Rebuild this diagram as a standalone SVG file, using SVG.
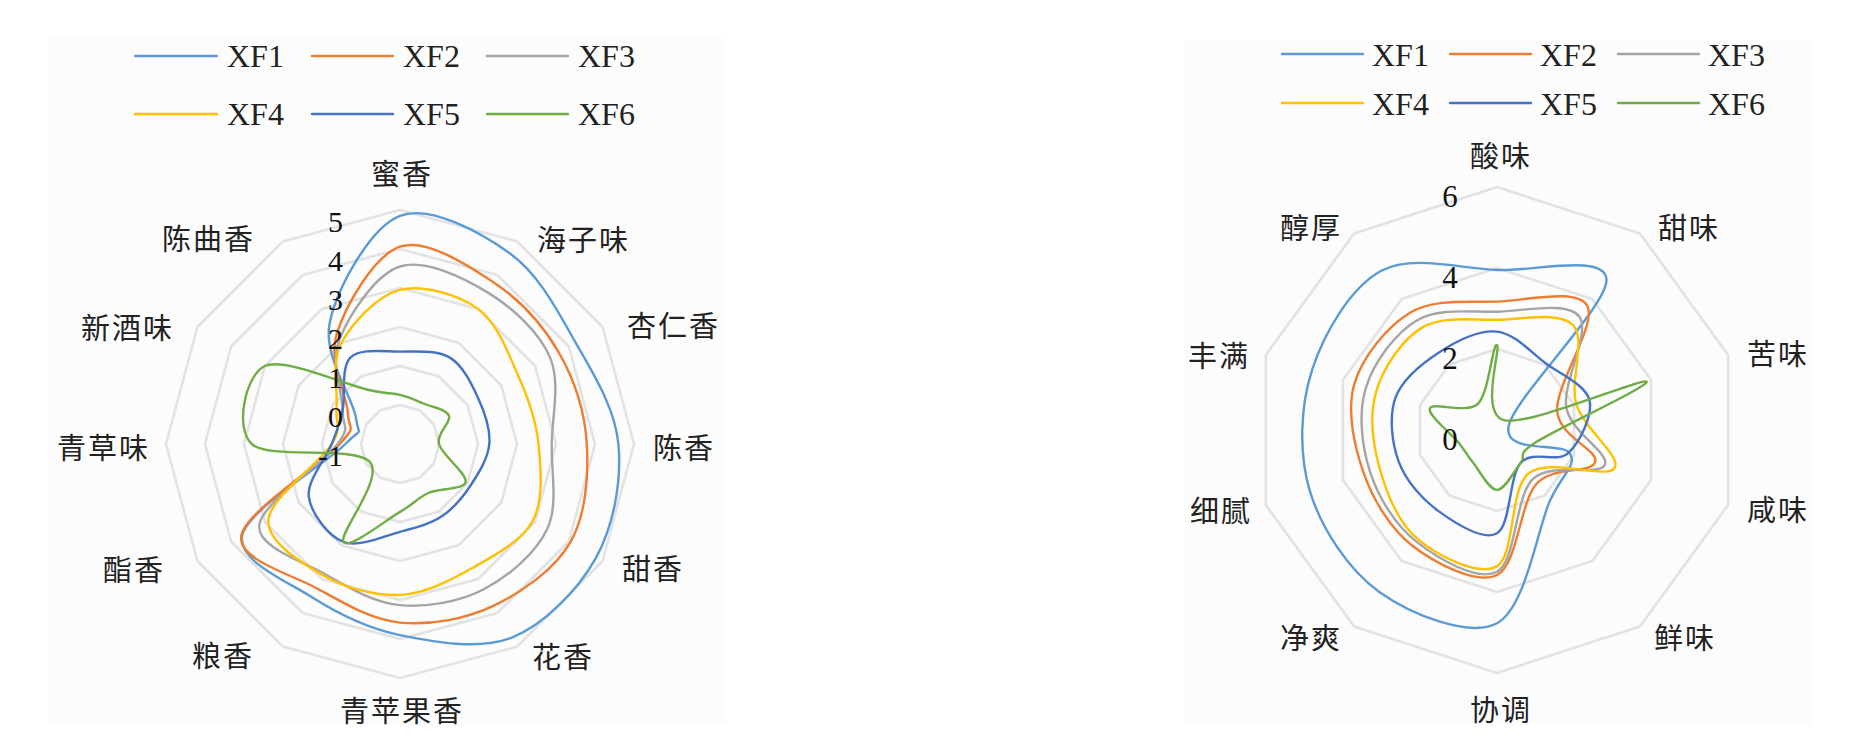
<svg xmlns="http://www.w3.org/2000/svg" width="1866" height="745" viewBox="0 0 1866 745">
<style>
.panel{fill:#fcfcfc}
.grid{fill:none;stroke:#e2e2e2;stroke-width:2.6;stroke-linejoin:round}
.s{fill:none;stroke-width:2.4;stroke-linejoin:round;stroke-linecap:round}
.x1{stroke:#5b9bd5}.x2{stroke:#ed7d31}.x3{stroke:#a5a5a5}.x4{stroke:#ffc000}.x5{stroke:#4472c4}.x6{stroke:#70ad47}
.lab{font-family:"Noto Sans CJK SC","Noto Sans CJK JP",sans-serif;font-size:29px;fill:#222222;letter-spacing:2px}
.num{font-family:"Liberation Serif",serif;font-size:30px;fill:#111111}
.numr{font-family:"Liberation Serif",serif;font-size:31px;fill:#111111;text-anchor:middle}
.leg{font-family:"Liberation Serif",serif;font-size:32px;fill:#222222}
.e{text-anchor:end}.m{text-anchor:middle}
</style>
<rect width="1866" height="745" fill="#ffffff"/>
<rect class="panel" x="48" y="38" width="678" height="687"/>
<rect class="panel" x="1185" y="40" width="627" height="685"/>

<g id="left-chart">
<g id="left-grid">
<polygon class="grid" points="400,405 419.5,410.2 433.8,424.5 439,444 433.8,463.5 419.5,477.8 400,483 380.5,477.8 366.2,463.5 361,444 366.2,424.5 380.5,410.2"/>
<polygon class="grid" points="400,366 439,376.5 467.5,405 478,444 467.5,483 439,511.5 400,522 361,511.5 332.5,483 322,444 332.5,405 361,376.5"/>
<polygon class="grid" points="400,327 458.5,342.7 501.3,385.5 517,444 501.3,502.5 458.5,545.3 400,561 341.5,545.3 298.7,502.5 283,444 298.7,385.5 341.5,342.7"/>
<polygon class="grid" points="400,288 478,308.9 535.1,366 556,444 535.1,522 478,579.1 400,600 322,579.1 264.9,522 244,444 264.9,366 322,308.9"/>
<polygon class="grid" points="400,249 497.5,275.1 568.9,346.5 595,444 568.9,541.5 497.5,612.9 400,639 302.5,612.9 231.1,541.5 205,444 231.1,346.5 302.5,275.1"/>
<polygon class="grid" points="400,210 517,241.4 602.6,327 634,444 602.6,561 517,646.6 400,678 283,646.6 197.4,561 166,444 197.4,327 283,241.4"/>
</g>
<g id="left-series">
<path id="L-XF1" class="s x1" d="M400,215.8 C430,204.3 480.7,232.4 510,253.5 S557.5,310.9 575.6,342.6 S615,408.2 618.4,444 S614,525 596.2,557.3 S544.5,624.6 511.8,637.6 S433.4,641.9 400,635.1 S337.9,613.7 311.6,597 S236.7,560.6 242.3,535.1 S326.4,463.4 345.4,444 S358.7,438.9 356.1,418.6 S322.5,356.2 329.8,322.4 S370,227.3 400,215.8 Z"/>
<path id="L-XF2" class="s x2" d="M400,246.7 C426.1,238 466.9,264.6 493.4,282.2 S543.1,325.3 558.7,352.3 S584.9,412.3 586.8,444 S585.9,515.3 570.3,542.3 S521.8,592.4 493.4,605.8 S429.5,625.5 400,622.6 S343.2,602.7 316.7,588.2 S237.4,559.7 241.3,535.7 S322.1,464.3 339.9,444 S348.6,432.2 348,413.9 S327.9,362.1 336.6,334.2 S373.9,255.4 400,246.7 Z"/>
<path id="L-XF3" class="s x3" d="M400,266.5 C424.7,258.7 462.6,277.2 487.6,292.4 S539.3,332.1 550,357.4 S552.2,415.4 551.7,444 S558.5,504.8 547.2,529 S508.4,576.5 483.9,589.2 S426.5,607.6 400,605.1 S348.4,587.4 324.9,574.1 S257.1,547 259.2,525.3 S323.7,463.1 337.6,444 S342.3,428.3 342.6,410.8 S329.9,363.4 339.5,339.3 S375.3,274.3 400,266.5 Z"/>
<path id="L-XF4" class="s x4" d="M400,289.9 C422.8,284.3 458.3,294.6 478,308.9 S508.1,353.2 518.2,375.7 S536.1,419.8 538.5,444 S543.9,500 532.8,520.7 S493.9,555.9 471.8,568.3 S424.7,593.7 400,594.9 S345.9,588.2 323.9,575.7 S267,542.1 268.3,520.1 S320.3,462.8 331.7,444 S334.9,424.2 336.5,407.3 S330.9,362.3 341.5,342.7 S377.2,295.5 400,289.9 Z"/>
<path id="L-XF5" class="s x5" d="M400,351.6 C416.6,351.6 436.8,349.7 449.9,357.6 S471.8,384.3 478.4,398.7 S490.6,429.6 489.3,444 S478.8,472.9 470.9,485 S453.6,508.5 441.8,516.3 S416.4,527.5 400,531.8 S358.6,547.8 343.4,541.9 S310.8,513 308.8,496.7 S326.1,458.3 331.7,444 S339.5,425.2 342.6,410.8 S340.6,367.7 350.2,357.8 S383.4,351.6 400,351.6 Z"/>
<path id="L-XF6" class="s x6" d="M400,394.9 C409.1,397.15 415.2,400 423.4,403.5 S446.4,409 449,415.7 S436.2,433 439,444 S467.4,473.7 465.6,481.9 S439.2,488 428.3,493 S414.2,503.7 400,511.9 S348.5,550.3 343.4,541.9 S384.9,477.9 369.6,461.6 S269.3,459.9 251.8,444 S245.4,375 264.9,366 S346.3,385.2 368.8,390 S390.9,392.65 400,394.9 Z"/>
</g>
<g id="left-axis-values">
<text class="num e" x="343" y="232">5</text>
<text class="num e" x="343" y="271">4</text>
<text class="num e" x="343" y="310">3</text>
<text class="num e" x="343" y="349">2</text>
<text class="num e" x="343" y="388">1</text>
<text class="num e" x="343" y="427">0</text>
<text class="num e" x="343" y="466">-1</text>
</g>
<g id="left-labels">
<text class="lab m" x="402" y="185">蜜香</text>
<text class="lab" x="537" y="251">海子味</text>
<text class="lab" x="627" y="337">杏仁香</text>
<text class="lab" x="653" y="459">陈香</text>
<text class="lab" x="622" y="580">甜香</text>
<text class="lab" x="532" y="668">花香</text>
<text class="lab m" x="402" y="722">青苹果香</text>
<text class="lab e" x="254" y="667">粮香</text>
<text class="lab e" x="165" y="581">酯香</text>
<text class="lab e" x="150" y="459">青草味</text>
<text class="lab e" x="174" y="339">新酒味</text>
<text class="lab e" x="255" y="250">陈曲香</text>
</g>
<g id="left-legend">
<line class="s x1" x1="135" y1="56" x2="217" y2="56"/><text class="leg" x="227" y="67">XF1</text>
<line class="s x2" x1="312" y1="56" x2="393" y2="56"/><text class="leg" x="403" y="67">XF2</text>
<line class="s x3" x1="487" y1="56" x2="568" y2="56"/><text class="leg" x="578" y="67">XF3</text>
<line class="s x4" x1="135" y1="114" x2="217" y2="114"/><text class="leg" x="227" y="125">XF4</text>
<line class="s x5" x1="312" y1="114" x2="393" y2="114"/><text class="leg" x="403" y="125">XF5</text>
<line class="s x6" x1="487" y1="114" x2="568" y2="114"/><text class="leg" x="578" y="125">XF6</text>
</g>
</g>

<g id="right-chart">
<g id="right-grid">
<polygon class="grid" points="1497,349 1544.6,364.5 1574,405 1574,455 1544.6,495.5 1497,511 1449.4,495.5 1420,455 1420,405 1449.4,364.5"/>
<polygon class="grid" points="1497,268 1592.3,298.9 1651.1,379.9 1651.1,480.1 1592.3,561.1 1497,592 1401.7,561.1 1342.9,480.1 1342.9,379.9 1401.7,298.9"/>
<polygon class="grid" points="1497,187 1639.9,233.4 1728.1,354.9 1728.1,505.1 1639.9,626.6 1497,673 1354.1,626.6 1265.9,505.1 1265.9,354.9 1354.1,233.4"/>
</g>
<g id="right-series">
<path id="R-XF1" class="s x1" d="M1497,270 C1534.5,271.4 1604.6,253.3 1606.5,279.3 S1514.65,397.1 1508.6,426.2 S1563.4,441.15 1570.2,453.8 S1561.6,473.9 1549.4,502.1 S1525.35,608.2 1497,623.2 S1410.5,614 1379.3,591.9 S1321,527.8 1309.8,490.8 S1300.2,406.6 1312.1,369.9 S1350.5,287.45 1381.3,270.8 S1459.5,268.6 1497,270 Z"/>
<path id="R-XF2" class="s x2" d="M1497,301.6 C1526.3,300.6 1577.3,287.65 1587.3,305.8 S1555.8,384.5 1557.1,410.5 S1598.7,449.65 1595.2,461.9 S1552.7,465.15 1536.3,484 S1517.6,564.7 1497,575 S1434.9,562.95 1412.7,546 S1373.5,500.35 1363.8,473.3 S1346.5,410.6 1354.4,383.7 S1387.5,325.7 1411.3,312 S1467.7,302.6 1497,301.6 Z"/>
<path id="R-XF3" class="s x3" d="M1497,311.7 C1524,311.1 1567.85,300.7 1579.4,316.7 S1562.1,382.8 1566.3,407.5 S1610.4,453.1 1604.8,465 S1550.7,461.3 1532.7,479.1 S1516.45,561.35 1497,571.75 S1437.2,558.1 1416,541.4 S1378.2,497 1369.9,471.3 S1358.1,412.6 1366,387.4 S1395.4,332.8 1417.2,320.2 S1470,312.3 1497,311.7 Z"/>
<path id="R-XF4" class="s x4" d="M1497,319.8 C1522.1,319.4 1560,311.1 1573.2,325.2 S1569.4,380.4 1576.3,404.2 S1622.4,456.7 1614.4,468.2 S1548.1,457 1528.5,473.3 S1515.5,555.1 1497,566.1 S1437.3,555.4 1417.7,539.1 S1386.5,492.9 1379.6,468.2 S1369.3,414.3 1376.4,390.8 S1402.3,339.2 1422.4,327.4 S1471.9,320.2 1497,319.8 Z"/>
<path id="R-XF5" class="s x5" d="M1497,331.6 C1514.6,333.5 1530.2,351.8 1545.6,363.2 S1585.6,385 1589.4,400 S1579.6,442.6 1568.2,453.1 S1532.7,449.4 1520.8,462.8 S1510.8,525.3 1497,533.3 S1454.6,522.8 1438.2,510.9 S1405.9,480.9 1398.8,461.9 S1388.8,415.5 1395.7,397.1 S1423.2,362.6 1440.1,351.7 S1479.4,329.7 1497,331.6 Z"/>
<path id="R-XF6" class="s x6" d="M1497,344.95 C1501.4,347.65 1479.2,414.1 1504.1,420.2 S1641.2,377.8 1646.4,381.5 S1556.4,428.95 1535.5,442.5 S1527.2,454.9 1520.8,462.8 S1504.9,489.9 1497,489.9 S1479.6,470.7 1473.2,462.8 S1465.7,451.6 1458.5,442.5 S1426.8,414.65 1430,408.2 S1466.7,414.3 1477.9,403.8 S1492.6,342.25 1497,344.95 Z"/>
</g>
<g id="right-axis-values">
<text class="numr" x="1450" y="207">6</text>
<text class="numr" x="1450" y="288">4</text>
<text class="numr" x="1450" y="369">2</text>
<text class="numr" x="1450" y="450">0</text>
</g>
<g id="right-labels">
<text class="lab m" x="1501" y="167">酸味</text>
<text class="lab" x="1658" y="239">甜味</text>
<text class="lab" x="1747" y="365">苦味</text>
<text class="lab" x="1747" y="521">咸味</text>
<text class="lab" x="1654" y="649">鲜味</text>
<text class="lab m" x="1501" y="721">协调</text>
<text class="lab e" x="1342" y="649">净爽</text>
<text class="lab e" x="1252" y="522">细腻</text>
<text class="lab e" x="1250" y="367">丰满</text>
<text class="lab e" x="1342" y="239">醇厚</text>
</g>
<g id="right-legend">
<line class="s x1" x1="1282" y1="54" x2="1363" y2="54"/><text class="leg" x="1372" y="66">XF1</text>
<line class="s x2" x1="1450" y1="54" x2="1531" y2="54"/><text class="leg" x="1540" y="66">XF2</text>
<line class="s x3" x1="1618" y1="54" x2="1699" y2="54"/><text class="leg" x="1708" y="66">XF3</text>
<line class="s x4" x1="1282" y1="103" x2="1363" y2="103"/><text class="leg" x="1372" y="115">XF4</text>
<line class="s x5" x1="1450" y1="103" x2="1531" y2="103"/><text class="leg" x="1540" y="115">XF5</text>
<line class="s x6" x1="1618" y1="103" x2="1699" y2="103"/><text class="leg" x="1708" y="115">XF6</text>
</g>
</g>
</svg>
